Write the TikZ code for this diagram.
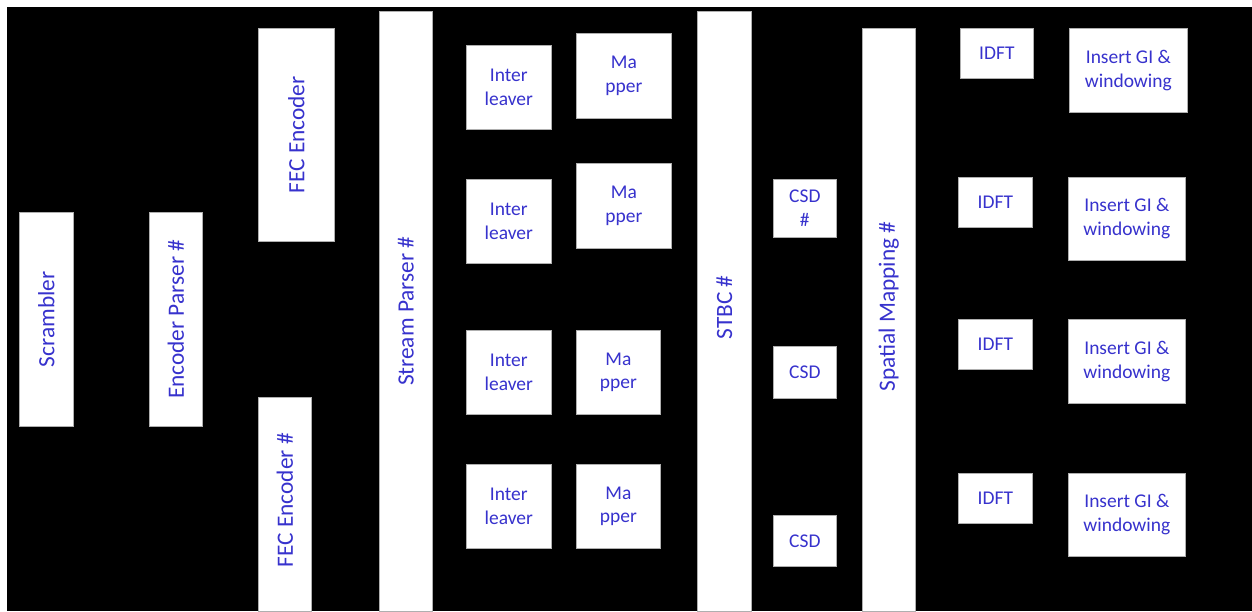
\documentclass[tikz,border=0pt]{standalone}
\usepackage{fontspec}
\setmainfont{Carlito}
\usepackage{graphicx}
\definecolor{txtblue}{RGB}{55,50,205}
\definecolor{edge}{RGB}{175,175,175}
\tikzset{
  box/.style={fill=white,draw=edge,line width=0.5pt,inner sep=0pt,align=center,
    text=txtblue,font=\fontsize{14.6pt}{17.8pt}\selectfont},
  vbox/.style={box,font=\fontsize{17.5pt}{20pt}\selectfont}
}
\newcommand\blk[7][box]{\node[#1,anchor=north west,minimum width={(#5-#3)*0.75pt},minimum height={(#6-#4)*0.75pt}] (#2) at (#3,#4) {#7};}
\newcommand\vt[1]{\rotatebox{90}{#1}}
\begin{document}
\begin{tikzpicture}[x=0.75pt,y=-0.75pt]
\useasboundingbox (0,0) rectangle (1252,611);
\fill[white] (0,0) rectangle (1252,611);
\fill[black] (7,7) rectangle (1252,611);
% left part
\blk[vbox]{scr}{19}{212}{73}{426}{\vt{Scrambler}}
\blk[vbox]{encp}{149}{212}{202}{426}{\vt{Encoder Parser \#}}
\blk[vbox]{fecA}{258}{28}{334}{241}{\vt{FEC Encoder}}
\blk[vbox]{fecB}{258}{397}{311}{611}{\vt{\hspace{6pt}FEC Encoder \#}}
\blk[vbox]{spar}{379}{11}{432}{611}{\vt{Stream Parser \#}}
% interleavers and mappers
\blk{ilA}{466}{45}{551}{129}{Inter\\leaver}
\blk{ilB}{466}{179}{551}{263}{Inter\\leaver}
\blk{ilC}{466}{330}{551}{414}{Inter\\leaver}
\blk{ilD}{466}{464}{551}{548}{Inter\\leaver}
\blk{mpA}{576}{33}{671}{118}{Ma\\pper}
\blk{mpB}{576}{163}{671}{248}{Ma\\pper}
\blk{mpC}{576}{330}{660}{414}{Ma\\pper}
\blk{mpD}{576}{464}{660}{548}{Ma\\pper}
% STBC and CSD
\blk[vbox]{stbc}{697}{11}{751}{611}{\vt{\hspace{6pt}STBC \#}}
\blk{csdA}{773}{179}{836}{237}{CSD\\\#}
\blk{csdB}{773}{346}{836}{398}{CSD}
\blk{csdC}{773}{515}{836}{566}{CSD}
\blk[vbox]{smap}{862}{28}{915}{611}{\vt{\hspace{20pt}Spatial Mapping \#}}
% IDFT and GI
\blk{idA}{960}{28}{1033}{78}{IDFT}
\blk{idB}{958}{177}{1032}{227}{IDFT}
\blk{idC}{958}{319}{1032}{369}{IDFT}
\blk{idD}{958}{473}{1032}{523}{IDFT}
\blk{giA}{1069}{28}{1187}{112}{Insert GI \&\\windowing}
\blk{giB}{1068}{177}{1185}{260}{Insert GI \&\\windowing}
\blk{giC}{1068}{319}{1185}{403}{Insert GI \&\\windowing}
\blk{giD}{1068}{473}{1185}{556}{Insert GI \&\\windowing}
\end{tikzpicture}
\end{document}
